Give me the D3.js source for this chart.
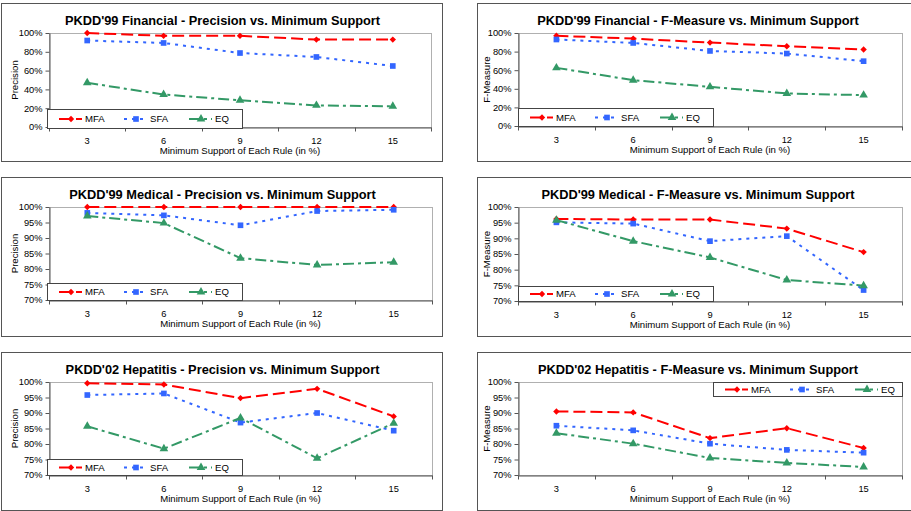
<!DOCTYPE html>
<html>
<head>
<meta charset="utf-8">
<script src="https://cdn.jsdelivr.net/npm/d3@7"></script>
<style>
body { margin: 0; background: #fff; }
svg { display: block; font-family: Arial, "Liberation Sans", sans-serif; }
</style>
</head>
<body>
<svg width="911" height="511"></svg>
<script>
// x categories (minimum support, %)
var xCats = [3, 6, 9, 12, 15];
var seriesNames = ["MFA", "SFA", "EQ"];
var ticksFull = [0, 20, 40, 60, 80, 100];
var ticksHigh = [70, 75, 80, 85, 90, 95, 100];

// values in percent
var finPrecMFA = [100, 97, 97, 93, 93];
var finPrecSFA = [92, 89.4, 78.7, 74.5, 64.9];
var finPrecEQ  = [47, 34.5, 28.4, 23, 22];
var finFmMFA = [97, 94, 89.7, 85.7, 82.2];
var finFmSFA = [93, 89.3, 80.7, 77.9, 69.7];
var finFmEQ  = [62.5, 49.3, 42.1, 35, 33.2];
var medPrecMFA = [100, 100, 100, 100, 100];
var medPrecSFA = [98.1, 97.3, 94.1, 98.7, 99.1];
var medPrecEQ  = [97.1, 94.8, 83.5, 81.3, 82.2];
var medFmMFA = [96.2, 96, 96, 93.1, 85.6];
var medFmSFA = [95.1, 94.7, 89.1, 90.7, 73.5];
var medFmEQ  = [95.8, 89.1, 83.9, 76.7, 74.9];
var hepPrecMFA = [99.6, 99.2, 94.8, 97.8, 88.9];
var hepPrecSFA = [95.8, 96.3, 86.9, 90, 84.3];
var hepPrecEQ  = [85.7, 78.5, 88.4, 75.4, 86.7];
var hepFmMFA = [90.5, 90.2, 81.9, 85.1, 78.7];
var hepFmSFA = [85.9, 84.4, 80.1, 78.1, 77.2];
var hepFmEQ  = [83.5, 80.1, 75.5, 73.9, 72.6];

var titles = [
    "PKDD'99 Financial - Precision vs. Minimum Support",
    "PKDD'99 Financial - F-Measure vs. Minimum Support",
    "PKDD'99 Medical - Precision vs. Minimum Support",
    "PKDD'99 Medical - F-Measure vs. Minimum Support",
    "PKDD'02 Hepatitis - Precision vs. Minimum Support",
    "PKDD'02 Hepatitis - F-Measure vs. Minimum Support"
];
var yTitles = ["Precision", "F-Measure", "Precision", "F-Measure", "Precision", "F-Measure"];
var xTitle = "Minimum Support of Each Rule (in %)";

var panelData = [
    [finPrecMFA, finPrecSFA, finPrecEQ],
    [finFmMFA, finFmSFA, finFmEQ],
    [medPrecMFA, medPrecSFA, medPrecEQ],
    [medFmMFA, medFmSFA, medFmEQ],
    [hepPrecMFA, hepPrecSFA, hepPrecEQ],
    [hepFmMFA, hepFmSFA, hepFmEQ]
];
var panelTicks = [ticksFull, ticksFull, ticksHigh, ticksHigh, ticksHigh, ticksHigh];

// layout of each panel
var layout = [
    {ox: 1,   oy: 3,   ow: 441, oh: 158, x0: 49,  x1: 431, y0: 33,  y1: 127, yt: 15,  leg: [47, 109, 195, 19]},
    {ox: 477, oy: 3,   ow: 440, oh: 158, x0: 518, x1: 902, y0: 33,  y1: 126, yt: 487, leg: [518, 108, 195, 18]},
    {ox: 1,   oy: 177, ow: 441, oh: 159, x0: 49,  x1: 432, y0: 207, y1: 300, yt: 15,  leg: [47, 283, 195, 17]},
    {ox: 477, oy: 177, ow: 440, oh: 159, x0: 518, x1: 902, y0: 207, y1: 301, yt: 487, leg: [518, 286, 195, 15]},
    {ox: 1,   oy: 352, ow: 441, oh: 158, x0: 49,  x1: 432, y0: 382, y1: 475, yt: 15,  leg: [47, 459, 195, 16]},
    {ox: 477, oy: 352, ow: 440, oh: 158, x0: 518, x1: 902, y0: 382, y1: 475, yt: 487, leg: [713, 382, 189, 14]}
];

var colors = ["#ff0000", "#3366ff", "#339966"];
var dashes = ["12,5", "3,5", "11,4,3,4"];
var symbols = [d3.symbolDiamond2 || d3.symbolDiamond, d3.symbolSquare, d3.symbolTriangle];
var symSizes = [26, 32, 32];

var svg = d3.select("svg");

panelData.forEach(function(series, p) {
    var L = layout[p];
    var g = svg.append("g");

    // outer chart border
    g.append("rect")
        .attr("x", L.ox + 0.5).attr("y", L.oy + 0.5)
        .attr("width", L.ow).attr("height", L.oh)
        .attr("fill", "#fff").attr("stroke", "#555");

    g.append("text")
        .attr("x", L.ox + L.ow / 2 + 1)
        .attr("y", L.oy + 22)
        .attr("text-anchor", "middle")
        .attr("font-size", 12.8)
        .attr("font-weight", "bold")
        .attr("fill", "#000")
        .text(titles[p]);

    var x = d3.scaleBand().domain(xCats).range([L.x0, L.x1]);
    var yt = panelTicks[p];
    var y = d3.scaleLinear().domain([yt[0], yt[yt.length - 1]]).range([L.y1, L.y0]);

    // plot area border (light gray)
    g.append("rect")
        .attr("x", L.x0 + 0.5).attr("y", L.y0 + 0.5)
        .attr("width", L.x1 - L.x0).attr("height", L.y1 - L.y0)
        .attr("fill", "none").attr("stroke", "#b0b0b0");

    // y axis
    var ya = g.append("g")
        .attr("transform", "translate(" + (L.x0 + 0.5) + ",0)")
        .call(d3.axisLeft(y).tickValues(yt).tickSize(4).tickSizeOuter(0).tickFormat(function(d) { return d + "%"; }));
    ya.select(".domain").attr("stroke", "#555");
    ya.selectAll(".tick line").attr("stroke", "#555");
    ya.selectAll("text").attr("font-size", 9.3).attr("font-family", "Arial, 'Liberation Sans', sans-serif").attr("fill", "#000").attr("x", -7);

    // x axis: labels at centres, ticks at band edges
    var xa = g.append("g")
        .attr("transform", "translate(0," + (L.y1 + 0.5) + ")")
        .call(d3.axisBottom(x).tickSize(0).tickSizeOuter(0));
    xa.select(".domain").attr("stroke", "#555");
    xa.selectAll("text").attr("font-size", 9.3).attr("font-family", "Arial, 'Liberation Sans', sans-serif").attr("fill", "#000").attr("dy", "1.45em");
    var edges = xCats.map(function(c) { return x(c); }).concat([x(xCats[xCats.length - 1]) + x.bandwidth()]);
    xa.selectAll(".edge").data(edges).enter().append("line")
        .attr("x1", function(d) { return Math.round(d) + 0.5; })
        .attr("x2", function(d) { return Math.round(d) + 0.5; })
        .attr("y1", 0).attr("y2", 4)
        .attr("stroke", "#555");

    g.append("text")
        .attr("x", (L.x0 + L.x1) / 2)
        .attr("y", L.y1 + 27)
        .attr("text-anchor", "middle")
        .attr("font-size", 9.6)
        .attr("fill", "#000")
        .text(xTitle);

    g.append("text")
        .attr("transform", "translate(" + L.yt + "," + ((L.y0 + L.y1) / 2) + ") rotate(-90)")
        .attr("text-anchor", "middle")
        .attr("dy", "0.35em")
        .attr("font-size", 9.6)
        .attr("fill", "#000")
        .text(yTitles[p]);

    var line = d3.line()
        .x(function(d, i) { return x(xCats[i]) + x.bandwidth() / 2; })
        .y(function(d) { return y(d); });

    series.forEach(function(vals, s) {
        g.append("path")
            .attr("d", line(vals))
            .attr("fill", "none")
            .attr("stroke", colors[s])
            .attr("stroke-width", 2)
            .attr("stroke-dasharray", dashes[s]);
        g.selectAll(".m" + s).data(vals).enter().append("path")
            .attr("transform", function(d, i) {
                return "translate(" + (x(xCats[i]) + x.bandwidth() / 2) + "," + y(d) + ")";
            })
            .attr("d", d3.symbol().type(symbols[s]).size(symSizes[s]))
            .attr("fill", colors[s]);
    });

    // legend
    var lg = L.leg;
    var leg = g.append("g").attr("transform", "translate(" + lg[0] + "," + lg[1] + ")");
    leg.append("rect")
        .attr("x", 0.5).attr("y", 0.5)
        .attr("width", lg[2]).attr("height", lg[3])
        .attr("fill", "#fff").attr("stroke", "#444");
    var item = leg.selectAll(".it").data(seriesNames).enter().append("g")
        .attr("transform", function(d, i) { return "translate(" + (12 + i * 65) + "," + (lg[3] / 2 + 0.5) + ")"; });
    item.append("line")
        .attr("x1", 0).attr("x2", 23)
        .attr("stroke", function(d, i) { return colors[i]; })
        .attr("stroke-width", 2)
        .attr("stroke-dasharray", function(d, i) { return i == 0 ? "13,4,6" : dashes[i]; });
    item.append("path")
        .attr("transform", "translate(12,0)")
        .attr("d", function(d, i) { return d3.symbol().type(symbols[i]).size(symSizes[i])(); })
        .attr("fill", function(d, i) { return colors[i]; });
    item.append("text")
        .attr("x", 26)
        .attr("dy", "0.35em")
        .attr("font-size", 9.6)
        .attr("fill", "#000")
        .text(function(d) { return d; });
});
</script>
</body>
</html>
